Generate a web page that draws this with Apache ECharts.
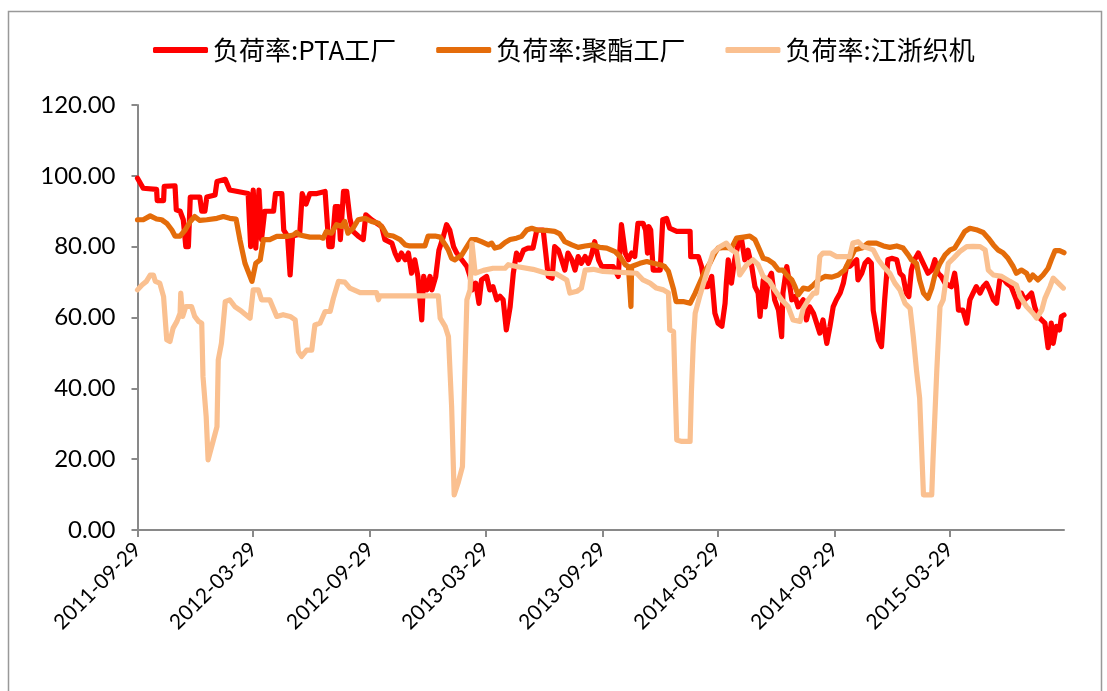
<!DOCTYPE html>
<html>
<head>
<meta charset="UTF-8">
<title>负荷率</title>
<script src="https://cdn.jsdelivr.net/npm/echarts@6/dist/echarts.min.js"></script>
<style>
html,body{margin:0;padding:0;background:#fff;}
#chart{width:1107px;height:691px;}
</style>
</head>
<body>
<div id="chart"></div>
<script type="text/javascript">
// 起始日期和横轴标签日期
var startDate = '2011-09-29';
var dayCount = 1458;
var labelDates = ['2011-09-29','2012-03-29','2012-09-29','2013-03-29','2013-09-29','2014-03-29','2014-09-29','2015-03-29'];
var names = ['负荷率:PTA工厂','负荷率:聚酯工厂','负荷率:江浙织机'];

// [距起始日的天数, 负荷率]
var pta = [[0,99.3],[9,96.5],[30,96.2],[31,93],[41,93],[42,97],[59,97.2],[61,90.4],[67,90],[72,87.6],[76,80],[80,80],[83,94],[98,94],[101,90],[106,90],[109,94],[122,94.6],[125,98.4],[138,99],[145,96],[174,95],[178,80],[182,96],[186,79.6],[191,96],[195,82],[200,90],[214,90],[217,95],[227,95],[230,84.7],[236,83],[240,72],[244,83],[255,83.5],[259,95],[265,92],[271,95],[282,95],
[295,95.6],[297,90.4],[301,80],[306,80],[311,91.3],[316,91.3],[319,82],[324,95.6],[329,95.6],[334,88],[339,84.3],[347,83],[355,82],[359,89],[368,87.6],[384,85.7],[389,82],[400,81],[405,78.2],[410,76.3],[415,78.2],[421,76.3],[426,78.2],[431,72.5],[436,76.3],[441,71.6],[447,59.3],[450,71.6],[455,67.8],[460,71.6],[463,67.8],[469,71.6],[474,79],[481,82.9],[486,86.2],[491,84.7],[497,80],[502,78.2],[510,76.3],[518,74.4],[523,71.6],[526,67.8],[532,69.7],[537,64],[541,70.6],[549,71.6],[554,67.8],[559,68.7],[565,65],[570,66],[575,65],[580,56.5],[586,63],[591,72.5],[596,78.2],[601,76.3],[607,79],[614,79.6],[622,79.6],[628,84.7],[638,84.7],[642,78.2],[646,71.6],[652,71.1],[656,80],[662,79],[667,76.3],[672,73.4],[677,78.2],[683,76.3],[688,73.4],[693,77.2],[698,75.3],[704,77.2],[709,75.3],[714,77.7],[719,81.4],[725,76.3],[730,74.4],[748,74.4],[756,71.6],[761,86.2],[767,78.2],[772,76.3],[777,78.2],[782,77.2],[787,86.6],[795,86.6],[799,84.7],[802,78.2],[804,85.7],[807,84.7],[811,73.4],[822,73.4],[826,87.6],[832,88],[837,85.2],[848,84.3],[869,84.3],
[870,77.2],[882,77.2],[887,74.4],[892,68.7],[897,68.7],[903,71.6],[908,61.2],[913,58.4],[919,57.5],[924,64],[926,69.7],[929,76.3],[934,69.7],[939,76.3],[945,81],[950,82],[955,76.3],[960,79],[966,74.4],[971,68.7],[976,66.9],[979,60.3],[984,70.6],[987,63],[992,70.6],[997,72.5],[1002,65],[1008,62.1],[1013,54.6],[1015,66.9],[1021,74.4],[1026,68.7],[1029,65],[1034,65.9],[1039,63],[1047,65],[1052,59.3],[1057,63],[1063,61.2],[1068,58.4],[1073,55.6],[1078,59.3],[1084,52.7],[1089,57.5],[1094,63],[1099,65],[1105,66.9],[1110,69.7],[1115,74.4],[1120,74.4],[1125,75.3],[1131,76.3],[1133,70.6],[1139,72.5],[1144,75.3],[1149,76.3],[1154,75.3],[1157,62],[1165,53.7],[1170,51.8],[1175,65],[1180,76.3],[1186,76.7],[1194,76.3],[1199,72.5],[1204,71.6],[1209,66.9],[1213,65.9],[1217,73.4],[1222,76.3],[1228,78.2],[1233,76.3],[1238,74.4],[1243,72.5],[1249,73.4],[1254,76.3],[1259,72.5],[1264,71.6],[1270,69.7],[1280,68.7],[1285,72.5],[1288,68.7],[1291,62.1],[1298,62.1],[1304,58.4],[1309,65],[1314,66.9],[1319,68.7],[1325,66.9],[1330,68.7],[1335,69.7],[1340,67.8],[1346,65],[1351,64],[1356,70.6],[1361,71.1],[1367,69.7],[1374,68.7],[1382,65],[1385,63],[1390,66.9],[1395,65],[1401,65.9],[1406,66.9],[1411,63],[1416,60.3],[1427,58.4],[1432,51.5],[1437,58.4],[1440,52.7],[1445,57.5],[1450,56.5],[1453,60.3],[1457,60.7]];

var polyester = [[0,87.6],[9,87.6],[20,88.7],[30,87.8],[38,87.6],[46,86.6],[54,84.7],[59,83],[67,83],[75,84.7],[83,87.1],[90,88.5],[98,87.4],[109,87.6],[125,88],[135,88.5],[145,88],[155,87.8],[161,82],[169,75.3],[180,70.2],[186,75.3],[193,76.3],[198,82],[208,82],[219,82.9],[235,82.9],[245,83.3],[250,84],[255,83.3],[271,82.7],[287,82.7],
[292,82.4],[297,84.3],[305,83.8],[313,86.2],[321,85.7],[326,87.1],[331,83.8],[339,85.2],[347,87.6],[358,88],[368,87.1],[379,86.6],[386,85.2],[392,83.3],[402,83],[413,82],[421,80.5],[428,80.2],[441,80.2],[452,80.2],[457,83],[468,83],[476,82.7],[484,80.5],[489,79],[494,76.7],[499,76.3],[510,77.7],[518,80],[525,82],[533,82],[541,81.4],[552,80.5],[557,81],[562,79.6],[570,80],
[578,81.2],[586,82],[596,82.4],[604,82.9],[612,84.7],[620,85.2],[628,84.7],[643,84.6],[656,84.3],[664,83.6],[672,81.4],[683,80.5],[693,79.8],[704,80.2],[717,80.5],[727,79.8],[738,79.6],[751,78.6],[759,77.2],[767,74.9],[772,74.4],[776,63.1],[777,74.4],[790,75.3],[801,75.8],[811,75.3],[822,74.9],[829,74.4],[835,73],[843,68],[847,64.5],[858,64.5],[869,64],
[877,66.9],[884,69.7],[892,73],[900,75.3],[908,78.2],[913,79.6],[924,79.8],[934,79.6],[942,82.4],[953,82.7],[963,83],[971,82],[976,80],[984,76.7],[992,76.3],[1000,75.3],[1008,73.4],[1015,73.4],[1021,72],[1029,70.6],[1034,68.7],[1039,66.4],[1047,68.3],[1055,68],[1063,69.2],[1071,70.6],[1081,71.6],[1092,71.4],[1102,72],[1112,73.4],[1120,76.3],[1128,79.1],[1139,79.6],[1149,81],
[1162,81],[1173,80.2],[1183,79.8],[1194,80.2],[1204,79.6],[1212,77.7],[1217,76.3],[1225,75.3],[1230,70.6],[1236,66.9],[1243,65.4],[1249,68.3],[1254,72],[1262,75.3],[1270,77.7],[1278,79.1],[1285,79.6],[1293,81.9],[1301,84.3],[1309,85.2],[1319,84.8],[1330,84],[1338,82.4],[1346,80.5],[1353,79.1],[1361,78.3],[1369,76.7],[1377,74.4],[1382,72.5],[1390,73.4],[1398,72.5],[1403,70.6],[1408,72],[1416,70.6],[1424,72],[1432,73.9],[1437,76.3],[1443,78.9],[1450,78.9],[1457,78.3]];

var loom = [[0,67.8],[7,69.2],[14,70.2],[20,72],[25,72],[28,70.2],[35,69.7],[41,65.9],[46,53.7],[51,53.2],[56,57],[62,58.9],[67,61.2],[68,66.9],[71,60.3],[76,63.1],[85,63.1],[90,60.3],[96,58.9],[101,58.4],[103,43.3],[108,32],[111,19.8],[118,24.5],[125,29.2],[127,48],[132,52.7],[138,64.5],[145,65],[153,63.1],[164,61.7],[177,59.8],[182,67.8],[190,67.8],[195,65],[208,65],[219,60.3],[229,60.8],[240,60.3],[248,59.3],[253,50.4],[258,49],[266,50.8],[274,50.8],[279,57.9],[287,58.4],[295,61.7],[303,61.7],[308,65.4],[316,70.2],[326,70],[334,68.3],[350,67],[365,67],[376,67],[379,65],[381,66.1],[428,66.1],[473,66.1],
[476,59.8],[484,57.4],[489,54.6],[494,34.8],[498,9.9],[504,13.2],[511,17.9],[515,46.1],[518,65],[523,67.8],[526,81],[531,72.5],[544,73.3],[559,73.9],[578,73.9],[583,74.9],[596,74.4],[622,73.6],[643,72.5],[659,72.3],[675,70.6],[680,66.9],[691,67.4],[698,68.3],[704,73.4],[717,73.6],[732,73],[753,72.8],[785,72.5],[795,70.6],[806,69.7],[816,68.3],[827,67.8],[835,66.9],[837,56.5],[843,56],[845,43.3],[848,25.4],[856,25],[869,25],[871,38.6],[874,52.7],[877,61.2],[884,65.9],[895,72.5],[905,78.2],[916,80],[926,81],[934,79.1],[942,78.2],[947,72],[958,74.9],[968,76.3],[976,74.9],[984,71.6],[994,70.2],[1002,67.8],[1013,65],[1023,63.1],[1031,59.3],[1042,58.9],[1047,62.6],[1055,65],[1063,66.9],[1068,66.9],[1073,77.2],[1078,78.2],[1089,78.2],[1099,77.2],[1120,77.2],[1125,81],[1133,81.4],[1141,80],[1149,79.6],[1157,79.1],[1165,76.3],[1173,74.4],[1183,72.5],[1191,69.7],[1199,67.8],[1207,64],[1215,62.6],[1220,54.6],[1225,45.2],[1230,37.2],[1236,9.9],[1249,9.9],[1251,19.8],[1257,45.2],[1262,63.1],[1267,65],[1275,75.3],[1283,76.7],[1293,78.6],[1304,80],[1314,80.1],[1325,80],[1333,79.1],[1338,73.4],[1346,72],[1359,71.6],[1372,70.2],[1382,69.2],[1388,65.9],[1398,63.1],[1408,61.2],[1414,59.8],[1422,62.1],[1427,65.4],[1435,68.7],[1440,71.1],[1448,69.7],[1456,68.3]];

var colors = ['#FF0000','#E46C0A','#FAC090'];

// 按天生成横轴日期
var days = [];
var t0 = Date.UTC(2011, 8, 29);
for (var i = 0; i < dayCount; i++) {
	var d = new Date(t0 + i * 86400000);
	var m = d.getUTCMonth() + 1, dd = d.getUTCDate();
	days.push(d.getUTCFullYear() + '-' + (m < 10 ? '0' + m : m) + '-' + (dd < 10 ? '0' + dd : dd));
}
function isLabelDay(index, value) {
	return labelDates.indexOf(value) >= 0;
}

var axisColor = '#898989';
var mychart = echarts.init(document.getElementById('chart'));
var option = {
	animation: false,
	backgroundColor: '#fff',
	color: colors,
	graphic: [{
		type: 'rect',
		shape: {x: 8.5, y: 11.5, width: 1093, height: 690},
		style: {fill: 'none', stroke: '#999', lineWidth: 1.5},
		silent: true
	}],
	legend: {
		left: 148,
		top: 32,
		icon: 'roundRect',
		itemWidth: 55,
		itemHeight: 6,
		itemGap: 40,
		textStyle: {fontFamily: 'Noto Sans CJK SC', fontSize: 26, color: '#000'},
		data: names
	},
	grid: {left: 137.5, right: 43, top: 105, bottom: 161},
	xAxis: {
		type: 'category',
		data: days,
		boundaryGap: false,
		axisLine: {lineStyle: {color: axisColor, width: 2}},
		axisTick: {interval: isLabelDay, length: 7, lineStyle: {color: axisColor, width: 2}},
		axisLabel: {interval: isLabelDay, rotate: 45, margin: 16, fontFamily: 'Lato', fontSize: 21, color: '#000'},
		splitLine: {show: false}
	},
	yAxis: {
		type: 'value',
		min: 0,
		max: 120,
		interval: 20,
		axisLine: {show: true, lineStyle: {color: axisColor, width: 2}},
		axisTick: {show: true, length: 6, lineStyle: {color: axisColor, width: 2}},
		axisLabel: {
			margin: 22, fontFamily: 'Lato', fontSize: 24, color: '#000',
			formatter: function (v) { return v.toFixed(2); }
		},
		splitLine: {show: false}
	},
	series: [pta, polyester, loom].map(function (arr, k) {
		return {
			name: names[k],
			type: 'line',
			data: arr,
			showSymbol: false,
			symbol: 'none',
			lineStyle: {width: 5.2, color: colors[k], cap: 'round', join: 'round'}
		};
	})
};
mychart.setOption(option);
</script>
</body>
</html>
